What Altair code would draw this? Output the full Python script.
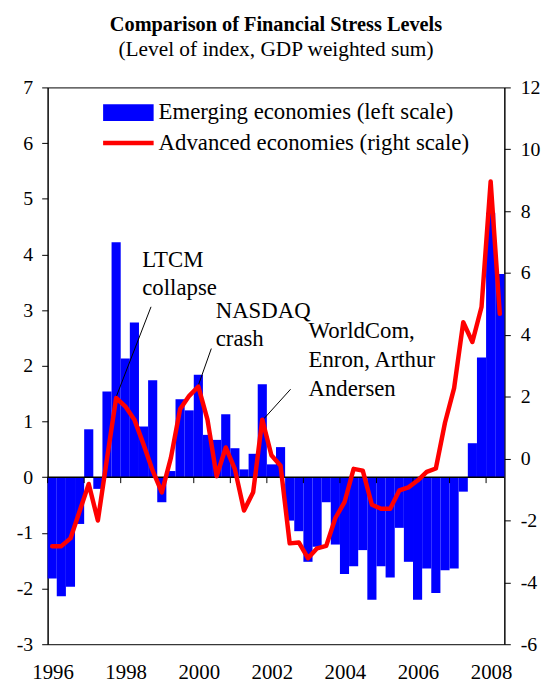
import altair as alt
import pandas as pd

# ---------------- data ----------------
years = list(range(1996, 2009))
quarters = [f"{y}Q{q}" for y in years for q in range(1, 5)][:50]

emerging = [
    -1.82, -2.14, -1.97, -0.84,
    0.86, -0.21, 1.54, 4.22,
    2.13, 2.78, 0.91, 1.74,
    -0.45, 0.11, 1.40, 1.20,
    1.84, 0.76, 0.67, 1.13,
    0.52, 0.14, 0.42, 1.67,
    0.23, 0.54, -0.78, -0.97,
    -1.52, -1.25, -0.45, -1.21,
    -1.74, -1.60, -1.31, -2.20,
    -1.60, -1.80, -0.91, -1.52,
    -2.20, -1.64, -2.08, -1.67,
    -1.64, -0.26, 0.61, 2.15,
    4.75, 3.65,
]

advanced = [
    -2.83, -2.83, -2.58, -1.70,
    -0.82, -2.00, 0.00, 1.96,
    1.69, 1.26, 0.46, -0.39,
    -1.09, 0.03, 1.60, 2.03,
    2.33, 1.26, -0.57, 0.36,
    -0.34, -1.68, -1.09, 1.26,
    0.11, -0.23, -2.74, -2.71,
    -3.22, -2.90, -2.82, -1.92,
    -1.41, -0.33, -0.39, -1.49,
    -1.62, -1.62, -1.03, -0.93,
    -0.71, -0.43, -0.32, 1.16,
    2.28, 4.41, 3.77, 4.90,
    8.96, 4.68,
]

x_labels = [1996, 1998, 2000, 2002, 2004, 2006, 2008]
left_ticks = list(range(-3, 8))
right_ticks = list(range(-6, 13, 2))

title_text = "Comparison of Financial Stress Levels"
subtitle_text = "(Level of index, GDP weighted sum)"
legend_labels = ["Emerging economies (left scale)", "Advanced economies (right scale)"]

ann_text = ["LTCM", "collapse", "NASDAQ", "crash", "WorldCom,", "Enron, Arthur", "Andersen"]
ann_x = [1998.59, 1998.59, 2000.60, 2000.60, 2003.14, 2003.14, 2003.14]
ann_y = [3.78, 3.27, 2.86, 2.36, 2.50, 1.97, 1.46]

lead_x = [1998.83, 2000.48, 2002.65]
lead_y = [3.06, 2.31, 1.58]
lead_x2 = [1997.875, 2000.125, 2001.92]
lead_y2 = [1.44, 1.65, 1.05]

# ---------------- tables ----------------
df = pd.DataFrame({"quarter": quarters, "emerging": emerging, "advanced": advanced})
df["t0"] = [1996 + i * 0.25 for i in range(len(df))]
df["t1"] = df["t0"] + 0.25
df["tc"] = df["t0"] + 0.125

ann_df = pd.DataFrame({"text": ann_text, "x": ann_x, "y": ann_y})
lead_df = pd.DataFrame({"x": lead_x, "y": lead_y, "x2": lead_x2, "y2": lead_y2})
tick_df = pd.DataFrame({"year": years})
one = pd.DataFrame({"k": [0]})

FONT = "Liberation Serif"

xs = alt.Scale(domain=[1996, 2008.5], nice=False, zero=False)
yl = alt.Scale(domain=[-3, 7], nice=False, zero=False)
yr = alt.Scale(domain=[-6, 12], nice=False, zero=False)

xaxis = alt.Axis(values=x_labels, labelExpr="'' + datum.value", ticks=False, domain=False,
                 labelFontSize=21, labelPadding=18, labelOffset=5, labelFlush=False,
                 title=None, grid=False)
yaxisL = alt.Axis(values=left_ticks, labelExpr="'' + datum.value", tickSize=6,
                  labelFontSize=20, labelPadding=9, title=None, grid=False)
yaxisR = alt.Axis(values=right_ticks, labelExpr="'' + datum.value", tickSize=6, orient="right",
                  labelFontSize=20, labelPadding=10, title=None, grid=False)

bars = alt.Chart(df).mark_rect(color="#0000FF").encode(
    x=alt.X("t0:Q", scale=xs, axis=xaxis),
    x2="t1:Q",
    y=alt.Y("emerging:Q", scale=yl, axis=yaxisL),
    y2=alt.datum(0),
)

zero_rule = alt.Chart(one).mark_rule(color="black", strokeWidth=1.5).encode(
    y=alt.datum(0)
)

year_ticks = alt.Chart(tick_df).mark_rule(color="black", strokeWidth=1, y2Offset=6).encode(
    x=alt.X("year:Q", scale=xs, axis=xaxis),
    y=alt.datum(0),
    y2=alt.datum(0),
)

leaders = alt.Chart(lead_df).mark_rule(color="black", strokeWidth=1).encode(
    x=alt.X("x:Q", scale=xs, axis=xaxis),
    y=alt.Y("y:Q", scale=yl, axis=yaxisL),
    x2="x2:Q",
    y2="y2:Q",
)

ann = alt.Chart(ann_df).mark_text(font=FONT, fontSize=23, align="left", baseline="alphabetic",
                                  color="black").encode(
    x=alt.X("x:Q", scale=xs, axis=xaxis),
    y=alt.Y("y:Q", scale=yl, axis=yaxisL),
    text="text:N",
)

title = alt.Chart(pd.DataFrame({"t": [title_text]})).mark_text(
    font=FONT, fontSize=20.5, fontWeight="bold", align="center", baseline="middle", color="black"
).encode(x=alt.value(230.5), y=alt.value(-63), text="t:N")

subtitle = alt.Chart(pd.DataFrame({"t": [subtitle_text]})).mark_text(
    font=FONT, fontSize=21.5, align="center", baseline="middle", color="black"
).encode(x=alt.value(230.5), y=alt.value(-38), text="t:N")

leg_rect = alt.Chart(one).mark_rect(color="#0000FF").encode(
    x=alt.value(56), x2=alt.value(107), y=alt.value(17), y2=alt.value(34)
)
leg_line = alt.Chart(one).mark_rule(color="#FF0000", strokeWidth=4.5).encode(
    x=alt.value(56), x2=alt.value(107), y=alt.value(56)
)
leg_text = alt.Chart(pd.DataFrame({"t": legend_labels, "yy": [25, 56]})).mark_text(
    font=FONT, fontSize=23, align="left", baseline="middle", color="black"
).encode(x=alt.value(112), y=alt.Y("yy:Q", scale=None), text="t:N")

left_layer = alt.layer(bars, zero_rule, year_ticks, leaders, ann)

line = alt.Chart(df).mark_line(color="#FF0000", strokeWidth=4.5, strokeJoin="round",
                               strokeCap="round").encode(
    x=alt.X("tc:Q", scale=xs, axis=xaxis),
    y=alt.Y("advanced:Q", scale=yr, axis=yaxisR),
)

overlay = alt.layer(title, subtitle, leg_rect, leg_line, leg_text)

chart = alt.layer(left_layer, line, overlay).resolve_scale(y="independent").properties(
    width=461, height=562,
    autosize="none",
    padding={"left": 40, "top": 77, "right": 38, "bottom": 38},
).configure_view(stroke="black", strokeWidth=1).configure_axis(
    labelFont=FONT, labelColor="black", domainColor="black", tickColor="black",
    domainWidth=1, tickWidth=1,
)

chart.save("out.html", embed_options={"renderer": "svg", "actions": False})
